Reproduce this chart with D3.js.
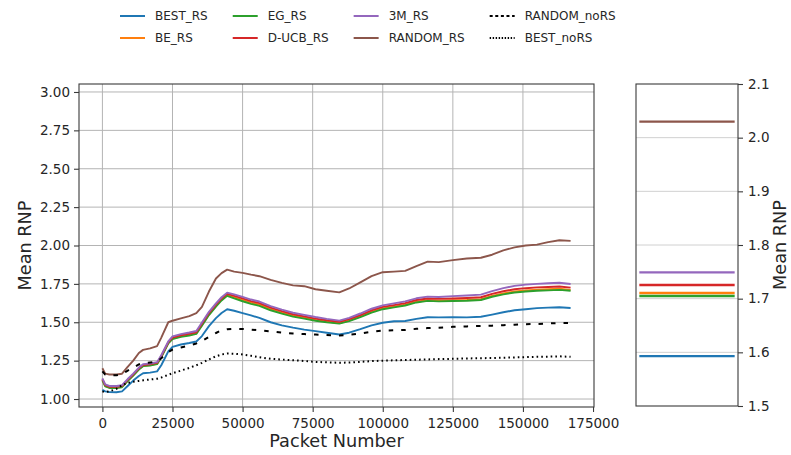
<!DOCTYPE html>
<html>
<head>
<meta charset="utf-8">
<script src="https://cdn.jsdelivr.net/npm/d3@7"></script>
<style>
  html, body { margin: 0; padding: 0; background: #fff; }
  svg { display: block; font-family: "DejaVu Sans", sans-serif; }
</style>
</head>
<body>
<svg id="chart" width="791" height="455"></svg>
<script>
// Packet numbers at which the running mean RNP was sampled
const packets = [0, 1000, 2500, 5000, 7000, 9000, 11000, 13000, 14500, 17000, 19500, 21000, 23500, 25000,
  28000, 31000, 33500, 35500, 38000, 40500, 42500, 44500, 47000, 50000, 53000, 56000, 60000, 64000, 68000,
  72000, 76000, 80000, 84500, 88000, 92000, 96000, 100000, 104000, 108000, 112000, 116000, 120000, 125000,
  130000, 135000, 139000, 143000, 147000, 151000, 155000, 159000, 163000, 167000];

const bestRS = [1.06, 1.05, 1.045, 1.044, 1.05, 1.085, 1.12, 1.15, 1.168, 1.172, 1.18, 1.22, 1.31, 1.34,
  1.355, 1.365, 1.375, 1.41, 1.475, 1.527, 1.56, 1.585, 1.575, 1.56, 1.545, 1.528, 1.50, 1.48, 1.465,
  1.452, 1.442, 1.432, 1.42, 1.432, 1.455, 1.48, 1.497, 1.507, 1.508, 1.522, 1.533, 1.532, 1.533,
  1.532, 1.536, 1.55, 1.565, 1.578, 1.585, 1.592, 1.595, 1.598, 1.593];

const beRS = [1.125, 1.085, 1.075, 1.075, 1.08, 1.12, 1.155, 1.195, 1.217, 1.221, 1.23, 1.275, 1.365, 1.393,
  1.408, 1.418, 1.428, 1.482, 1.552, 1.607, 1.647, 1.677, 1.662, 1.645, 1.628, 1.615, 1.585, 1.562, 1.543,
  1.529, 1.515, 1.504, 1.495, 1.511, 1.538, 1.568, 1.59, 1.602, 1.614, 1.634, 1.644, 1.641, 1.643,
  1.645, 1.65, 1.671, 1.688, 1.70, 1.707, 1.712, 1.715, 1.718, 1.7106];

const egRS = [1.122, 1.082, 1.072, 1.072, 1.077, 1.117, 1.152, 1.192, 1.214, 1.218, 1.227, 1.272, 1.362, 1.39,
  1.405, 1.414, 1.424, 1.478, 1.547, 1.602, 1.642, 1.672, 1.655, 1.637, 1.62, 1.607, 1.578, 1.556, 1.537,
  1.524, 1.51, 1.50, 1.491, 1.507, 1.533, 1.563, 1.585, 1.597, 1.609, 1.629, 1.639, 1.636, 1.638,
  1.64, 1.645, 1.666, 1.682, 1.694, 1.70, 1.705, 1.708, 1.711, 1.705];

const ducbRS = [1.13, 1.09, 1.08, 1.08, 1.085, 1.125, 1.16, 1.20, 1.222, 1.226, 1.235, 1.28, 1.37, 1.40,
  1.415, 1.425, 1.435, 1.49, 1.56, 1.615, 1.655, 1.685, 1.672, 1.655, 1.638, 1.625, 1.595, 1.572, 1.552,
  1.538, 1.524, 1.513, 1.503, 1.52, 1.547, 1.578, 1.60, 1.612, 1.625, 1.645, 1.655, 1.652, 1.655,
  1.658, 1.663, 1.685, 1.702, 1.715, 1.722, 1.727, 1.73, 1.733, 1.7255];

const m3RS = [1.135, 1.095, 1.085, 1.085, 1.09, 1.13, 1.165, 1.205, 1.227, 1.231, 1.24, 1.285, 1.375, 1.408,
  1.423, 1.433, 1.443, 1.498, 1.568, 1.623, 1.663, 1.693, 1.682, 1.665, 1.648, 1.635, 1.605, 1.582, 1.562,
  1.548, 1.534, 1.522, 1.511, 1.529, 1.557, 1.588, 1.61, 1.623, 1.636, 1.656, 1.667, 1.665, 1.67,
  1.674, 1.68, 1.703, 1.722, 1.737, 1.745, 1.75, 1.754, 1.757, 1.749];

const randomRS = [1.20, 1.165, 1.16, 1.16, 1.165, 1.21, 1.25, 1.30, 1.32, 1.33, 1.345, 1.40, 1.50, 1.51,
  1.525, 1.54, 1.56, 1.60, 1.70, 1.785, 1.82, 1.843, 1.83, 1.822, 1.81, 1.80, 1.776, 1.757, 1.74,
  1.735, 1.715, 1.705, 1.695, 1.72, 1.76, 1.80, 1.826, 1.83, 1.835, 1.866, 1.895, 1.892, 1.905,
  1.915, 1.92, 1.94, 1.968, 1.988, 2.0, 2.006, 2.022, 2.034, 2.03];

const randomNoRS = [1.18, 1.16, 1.153, 1.155, 1.16, 1.185, 1.205, 1.225, 1.235, 1.238, 1.242, 1.265, 1.305, 1.322,
  1.336, 1.348, 1.362, 1.378, 1.405, 1.43, 1.448, 1.455, 1.458, 1.456, 1.452, 1.448, 1.441, 1.433, 1.427,
  1.423, 1.42, 1.417, 1.413, 1.418, 1.427, 1.438, 1.446, 1.448, 1.45, 1.457, 1.462, 1.465, 1.47,
  1.473, 1.476, 1.478, 1.481, 1.484, 1.487, 1.489, 1.492, 1.495, 1.495];

const bestNoRS = [1.05, 1.045, 1.05, 1.066, 1.09, 1.105, 1.112, 1.118, 1.122, 1.127, 1.132, 1.14, 1.158, 1.168,
  1.185, 1.203, 1.22, 1.235, 1.258, 1.278, 1.29, 1.296, 1.295, 1.29, 1.282, 1.272, 1.262, 1.257, 1.253,
  1.248, 1.242, 1.239, 1.236, 1.238, 1.242, 1.247, 1.25, 1.252, 1.254, 1.256, 1.258, 1.26, 1.262,
  1.264, 1.266, 1.267, 1.269, 1.271, 1.273, 1.275, 1.276, 1.278, 1.275];

const seriesNames = ["BEST_RS", "BE_RS", "EG_RS", "D-UCB_RS", "3M_RS", "RANDOM_RS", "RANDOM_noRS", "BEST_noRS"];
const seriesValues = [bestRS, beRS, egRS, ducbRS, m3RS, randomRS, randomNoRS, bestNoRS];

const xTicks = [0, 25000, 50000, 75000, 100000, 125000, 150000, 175000];
const yTicks = [1.00, 1.25, 1.50, 1.75, 2.00, 2.25, 2.50, 2.75, 3.00];
const finalTicks = [1.5, 1.6, 1.7, 1.8, 1.9, 2.0, 2.1];

// Line styling per series
const styles = {
  "BEST_RS":     { color: "#1f77b4", dash: null },
  "BE_RS":       { color: "#ff7f0e", dash: null },
  "EG_RS":       { color: "#2ca02c", dash: null },
  "D-UCB_RS":    { color: "#d62728", dash: null },
  "3M_RS":       { color: "#9467bd", dash: null },
  "RANDOM_RS":   { color: "#8c564b", dash: null },
  "RANDOM_noRS": { color: "#000000", dash: "4.5,8", legendDash: "3,2.6" },
  "BEST_noRS":   { color: "#000000", dash: "1.6,3.1", legendDash: "1.4,1.6" }
};

const series = seriesNames.map((name, i) => ({
  name,
  points: packets.map((p, j) => ({ p, v: seriesValues[i][j] })),
  last: seriesValues[i][seriesValues[i].length - 1],
  ...styles[name]
}));

const svg = d3.select("#chart");
const spine = "#3a3a3a";
const gridCol = "#b4b4b4";
const textCol = "#262626";
const tickFont = 13.5;
const labelFont = 17.7;

// ---------- Main panel ----------
const main = { left: 79, right: 594, top: 84, bottom: 407 };
const x = d3.scaleLinear().domain([-8350, 175350]).range([main.left, main.right]);
const y = d3.scaleLinear().domain([0.948, 3.052]).range([main.bottom, main.top]);

svg.append("clipPath").attr("id", "mainClip")
  .append("rect").attr("x", main.left).attr("y", main.top)
  .attr("width", main.right - main.left).attr("height", main.bottom - main.top);

const grid = svg.append("g");
grid.selectAll("line.gx").data(xTicks.filter(t => x(t) < main.right - 1)).join("line")
  .attr("x1", d => x(d)).attr("x2", d => x(d))
  .attr("y1", main.top).attr("y2", main.bottom)
  .attr("stroke", gridCol).attr("stroke-width", 1);
grid.selectAll("line.gy").data(yTicks).join("line")
  .attr("x1", main.left).attr("x2", main.right)
  .attr("y1", d => y(d)).attr("y2", d => y(d))
  .attr("stroke", gridCol).attr("stroke-width", 1);

const line = d3.line().x(d => x(d.p)).y(d => y(d.v));
const plot = svg.append("g").attr("clip-path", "url(#mainClip)");
series.forEach(s => {
  plot.append("path")
    .datum(s.points)
    .attr("d", line)
    .attr("fill", "none")
    .attr("stroke", s.color)
    .attr("stroke-width", s.dash ? 2 : 1.9)
    .attr("stroke-dasharray", s.dash)
    .attr("stroke-linejoin", "round");
});

svg.append("rect").attr("x", main.left).attr("y", main.top)
  .attr("width", main.right - main.left).attr("height", main.bottom - main.top)
  .attr("fill", "none").attr("stroke", spine).attr("stroke-width", 1.1);

const xAxis = svg.append("g").attr("transform", `translate(0,${main.bottom})`)
  .call(d3.axisBottom(x).tickValues(xTicks).tickFormat(d3.format("d")).tickSize(5).tickPadding(6));
const yAxis = svg.append("g").attr("transform", `translate(${main.left},0)`)
  .call(d3.axisLeft(y).tickValues(yTicks).tickFormat(d3.format(".2f")).tickSize(5).tickPadding(4));
[xAxis, yAxis].forEach(g => {
  g.select(".domain").remove();
  g.selectAll("line").attr("stroke", spine).attr("stroke-width", 1.1);
  g.selectAll("text").attr("fill", textCol).attr("font-size", tickFont)
    .attr("font-family", "DejaVu Sans, sans-serif");
});

svg.append("text").attr("x", (main.left + main.right) / 2).attr("y", 447)
  .attr("text-anchor", "middle").attr("font-size", labelFont).attr("fill", textCol)
  .text("Packet Number");
svg.append("text")
  .attr("transform", `translate(31,${(main.top + main.bottom) / 2}) rotate(-90)`)
  .attr("text-anchor", "middle").attr("font-size", labelFont).attr("fill", textCol)
  .text("Mean RNP");

// ---------- Final-value panel ----------
const side = { left: 636, right: 738, top: 84, bottom: 406 };
const yr = d3.scaleLinear().domain([1.5, 2.1]).range([side.bottom, side.top]);
const xr = d3.scaleLinear().domain([-0.035, 1.035]).range([side.left, side.right]);

svg.append("g").selectAll("line").data(finalTicks.slice(1, -1)).join("line")
  .attr("x1", side.left).attr("x2", side.right)
  .attr("y1", d => yr(d)).attr("y2", d => yr(d))
  .attr("stroke", "#d0d0d0").attr("stroke-width", 1);

const inRange = series.filter(s => s.last >= 1.5 && s.last <= 2.1);
svg.append("g").selectAll("line").data(inRange).join("line")
  .attr("x1", xr(0)).attr("x2", xr(1))
  .attr("y1", d => yr(d.last)).attr("y2", d => yr(d.last))
  .attr("stroke", d => d.color).attr("stroke-width", 2.3);

svg.append("rect").attr("x", side.left).attr("y", side.top)
  .attr("width", side.right - side.left).attr("height", side.bottom - side.top)
  .attr("fill", "none").attr("stroke", spine).attr("stroke-width", 1.1);

const rAxis = svg.append("g").attr("transform", `translate(${side.right},0)`)
  .call(d3.axisRight(yr).tickValues(finalTicks).tickFormat(d3.format(".1f")).tickSize(5).tickPadding(5));
rAxis.select(".domain").remove();
rAxis.selectAll("line").attr("stroke", spine).attr("stroke-width", 1.1);
rAxis.selectAll("text").attr("fill", textCol).attr("font-size", tickFont)
  .attr("font-family", "DejaVu Sans, sans-serif");

svg.append("text")
  .attr("transform", `translate(786,${(side.top + side.bottom) / 2}) rotate(-90)`)
  .attr("text-anchor", "middle").attr("font-size", labelFont).attr("fill", textCol)
  .text("Mean RNP");

// ---------- Legend (4 columns, filled column by column) ----------
const legend = svg.append("g");
const rowY = [16, 38];
const handleLen = 25, handleGap = 10, colGap = 25;
let colX = 120;
for (let c = 0; c < 4; c++) {
  const items = series.slice(c * 2, c * 2 + 2);
  let maxW = 0;
  items.forEach((s, r) => {
    legend.append("line")
      .attr("x1", colX).attr("x2", colX + handleLen)
      .attr("y1", rowY[r]).attr("y2", rowY[r])
      .attr("stroke", s.color).attr("stroke-width", 2)
      .attr("stroke-dasharray", s.legendDash || null);
    const t = legend.append("text")
      .attr("x", colX + handleLen + handleGap).attr("y", rowY[r])
      .attr("dy", "0.36em").attr("font-size", 12).attr("fill", textCol)
      .text(s.name);
    maxW = Math.max(maxW, t.node().getComputedTextLength());
  });
  colX += handleLen + handleGap + maxW + colGap;
}
</script>
</body>
</html>
